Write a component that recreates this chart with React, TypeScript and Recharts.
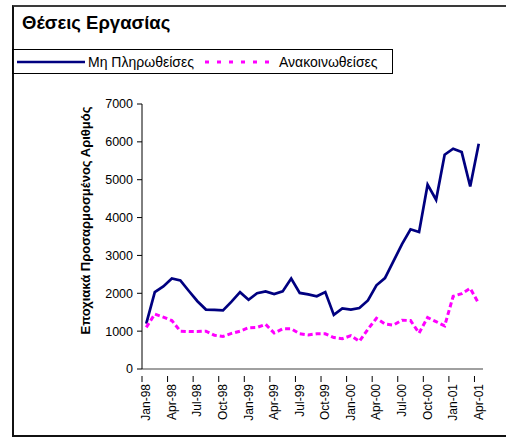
import React from 'react';
import { LineChart, Line, XAxis, YAxis } from 'recharts';

const months = [
  'Jan-98', 'Feb-98', 'Mar-98', 'Apr-98', 'May-98', 'Jun-98', 'Jul-98', 'Aug-98', 'Sep-98', 'Oct-98', 'Nov-98', 'Dec-98',
  'Jan-99', 'Feb-99', 'Mar-99', 'Apr-99', 'May-99', 'Jun-99', 'Jul-99', 'Aug-99', 'Sep-99', 'Oct-99', 'Nov-99', 'Dec-99',
  'Jan-00', 'Feb-00', 'Mar-00', 'Apr-00', 'May-00', 'Jun-00', 'Jul-00', 'Aug-00', 'Sep-00', 'Oct-00', 'Nov-00', 'Dec-00',
  'Jan-01', 'Feb-01', 'Mar-01', 'Apr-01',
];

// Μη Πληρωθείσες
const unfilled = [
  1200, 2030, 2180, 2390, 2340, 2060, 1790, 1570, 1560, 1550, 1780, 2030,
  1830, 2000, 2050, 1980, 2050, 2390, 2010, 1970, 1920, 2030, 1430, 1600,
  1570, 1610, 1810, 2210, 2400, 2850, 3300, 3690, 3620, 4870, 4470, 5660,
  5820, 5730, 4820, 5950,
];

// Ανακοινωθείσες
const announced = [
  1100, 1450, 1370, 1280, 1000, 990, 990, 1000, 890, 860, 940, 1000,
  1090, 1100, 1180, 950, 1060, 1060, 930, 900, 930, 930, 830, 800,
  880, 730, 1050, 1340, 1190, 1160, 1290, 1280, 950, 1360, 1250, 1140,
  1920, 1990, 2130, 1730,
];

const yTicks = [0, 1000, 2000, 3000, 4000, 5000, 6000, 7000];
const labelEvery = 3;

const FONT = '"Liberation Sans", Arial, sans-serif';

const W = 494;
const H = 355;
const MARGIN = { top: 24, right: 23, bottom: 65, left: 70 };
const Y_W = 60;
// half a category, so tick marks sit between months like in Excel
const halfCat = (W - MARGIN.left - MARGIN.right - Y_W) / months.length / 2;

const data = months.map((m, i) => ({ pos: i + 0.5, month: m, unfilled: unfilled[i], announced: announced[i] }));
const labelTicks = months.map((_, i) => i).filter((i) => i % labelEvery === 0).map((i) => i + 0.5);

function MonthTick(props: any) {
  const { x, y, payload } = props;
  const label = months[Math.floor(payload.value)];
  const mx = x - halfCat;
  return (
    <g>
      <line x1={mx} x2={mx} y1={y - 1} y2={y + 5} stroke="#000" />
      <text
        x={x}
        y={y + 7}
        transform={`rotate(-90, ${x}, ${y + 7})`}
        textAnchor="end"
        dominantBaseline="central"
        fontSize={12}
        fontFamily={FONT}
        fill="#000"
      >
        {label}
      </text>
    </g>
  );
}

function YLabel(props: any) {
  const { viewBox } = props;
  const x = viewBox.x + 3;
  const y = viewBox.y + viewBox.height / 2 - 16;
  return (
    <text
      x={x}
      y={y}
      transform={`rotate(-90, ${x}, ${y})`}
      textAnchor="middle"
      dominantBaseline="central"
      fontSize={13}
      fontWeight="bold"
      fontFamily={FONT}
      fill="#000"
    >
      Εποχιακά Προσαρμοσμένος Αριθμός
    </text>
  );
}

export default function App() {
  return (
    <div style={{ position: 'absolute', left: 0, top: 0, width: 506, height: 438, overflow: 'hidden', fontFamily: FONT }}>
      <div
        style={{
          position: 'absolute', left: 12, top: 5, width: 494, height: 432, boxSizing: 'border-box',
          borderTop: '2px solid #3a3a3a', borderLeft: '2px solid #111', borderBottom: '2px solid #111',
        }}
      />
      <div style={{ position: 'absolute', left: 22, top: 14, fontSize: 18.5, fontWeight: 'bold', lineHeight: 1 }}>
        Θέσεις Εργασίας
      </div>
      <div
        style={{
          position: 'absolute', left: 12, top: 49, width: 381, height: 25, boxSizing: 'border-box',
          border: '1px solid #000',
        }}
      >
        <svg width={381} height={25} style={{ position: 'absolute', left: -1, top: -1 }}>
          <line x1={5} x2={73} y1={13} y2={13} stroke="#000080" strokeWidth={2.5} />
          <text x={76} y={13} dominantBaseline="central" fontSize={14} fontFamily={FONT}>Μη Πληρωθείσες</text>
          <line x1={193} x2={264} y1={13} y2={13} stroke="#FF00FF" strokeWidth={3} strokeDasharray="4 8" />
          <text x={267} y={13} dominantBaseline="central" fontSize={14} fontFamily={FONT}>Ανακοινωθείσες</text>
        </svg>
      </div>
      <div style={{ position: 'absolute', left: 12, top: 80 }}>
        <LineChart width={W} height={H} data={data} margin={MARGIN}>
          <XAxis
            type="number"
            dataKey="pos"
            domain={[0, months.length]}
            ticks={labelTicks}
            interval={0}
            tick={<MonthTick />}
            height={1}
            axisLine={{ stroke: '#808080', strokeWidth: 1.5 }}
            tickLine={false}
          />
          <YAxis
            domain={[0, 7000]}
            ticks={yTicks}
            width={Y_W}
            axisLine={{ stroke: '#000', strokeWidth: 1 }}
            tickLine={{ stroke: '#000' }}
            tickSize={5}
            tickMargin={4}
            tick={{ fontSize: 12.5, fontFamily: FONT, fill: '#000' }}
            label={<YLabel />}
          />
          <Line
            dataKey="unfilled"
            name="Μη Πληρωθείσες"
            stroke="#000080"
            strokeWidth={2.7}
            dot={false}
            isAnimationActive={false}
          />
          <Line
            dataKey="announced"
            name="Ανακοινωθείσες"
            stroke="#FF00FF"
            strokeWidth={3}
            strokeDasharray="5 3"
            dot={false}
            isAnimationActive={false}
          />
        </LineChart>
      </div>
    </div>
  );
}
